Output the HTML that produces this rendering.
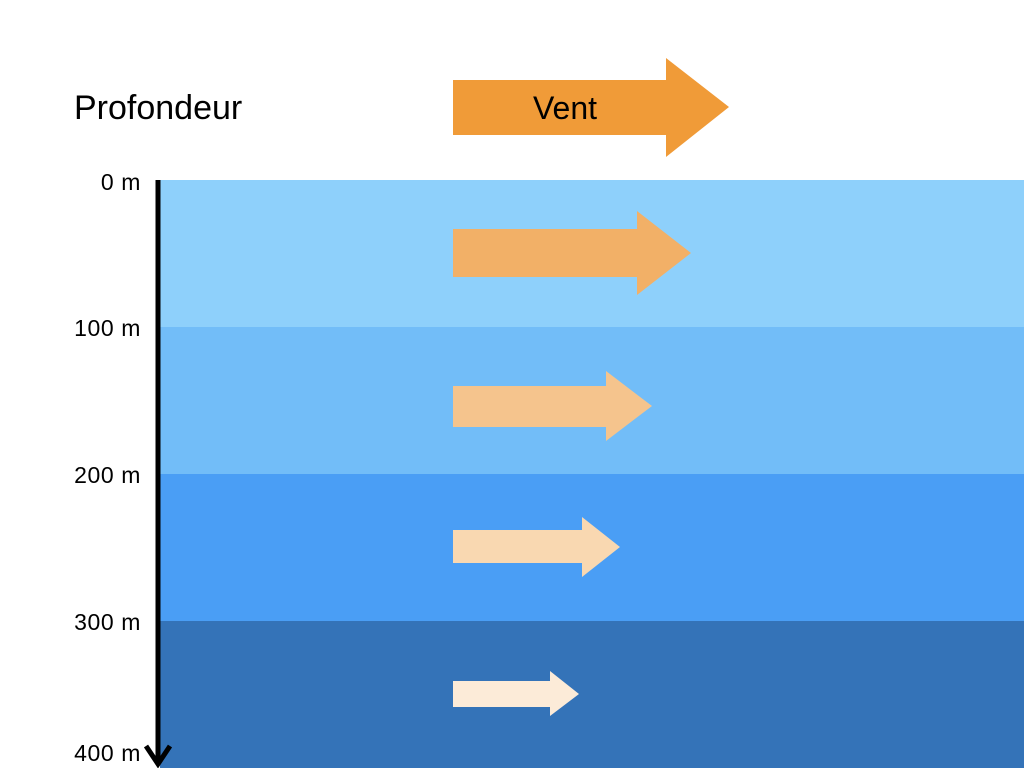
<!DOCTYPE html>
<html><head><meta charset="utf-8"><style>
body{margin:0;width:1024px;height:768px;overflow:hidden;background:#fff;font-family:"Liberation Sans",sans-serif;}
</style></head><body>
<svg width="1024" height="768" viewBox="0 0 1024 768" xmlns="http://www.w3.org/2000/svg" style="position:absolute;left:0;top:0">
<rect x="160" y="180" width="864" height="147" fill="#8ed0fb"/>
<rect x="160" y="327" width="864" height="147" fill="#72bdf8"/>
<rect x="160" y="474" width="864" height="147" fill="#4a9ef5"/>
<rect x="160" y="621" width="864" height="147" fill="#3473b8"/>
<line x1="158" y1="180" x2="158" y2="764" stroke="#000" stroke-width="5"/>
<polyline points="146,746 158,764 170,746" fill="none" stroke="#000" stroke-width="5"/>
<polygon points="453,80 666,80 666,58 729,107 666,157 666,135 453,135" fill="#f09b38"/>
<polygon points="453,229 637,229 637,211 691,253 637,295 637,277 453,277" fill="#f2b067"/>
<polygon points="453,386 606,386 606,371 652,406 606,441 606,427 453,427" fill="#f5c48d"/>
<polygon points="453,530 582,530 582,517 620,547 582,577 582,563 453,563" fill="#f9d8b1"/>
<polygon points="453,681 550,681 550,671 579,694 550,716 550,707 453,707" fill="#fcebd8"/>
<text x="74" y="119" font-size="34" font-family="Liberation Sans, sans-serif">Profondeur</text>
<text x="565" y="119" font-size="32" text-anchor="middle" font-family="Liberation Sans, sans-serif">Vent</text>
<g font-size="23" text-anchor="end" letter-spacing="0.6" font-family="Liberation Sans, sans-serif">
<text x="141" y="190">0 m</text>
<text x="141" y="336">100 m</text>
<text x="141" y="483">200 m</text>
<text x="141" y="630">300 m</text>
<text x="141" y="761">400 m</text>
</g>
</svg>
</body></html>
